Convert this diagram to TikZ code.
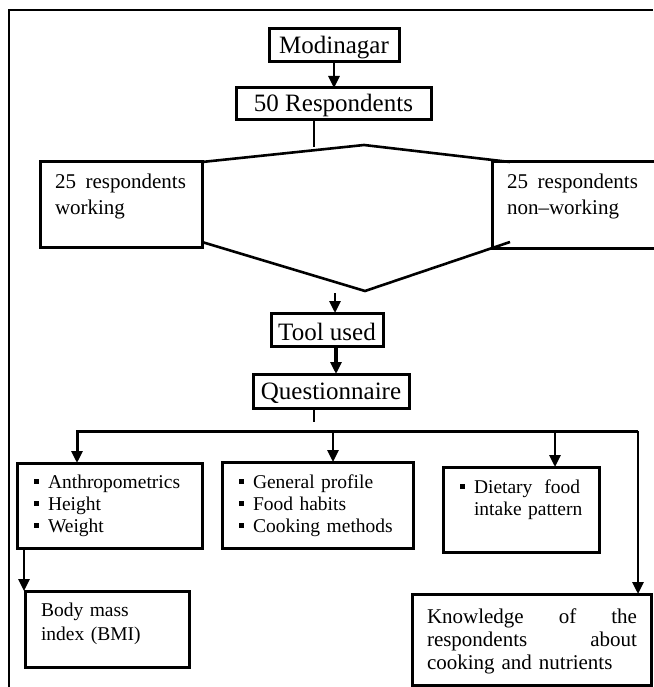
\documentclass[tikz,border=0pt]{standalone}
\usepackage{fontspec}
\setmainfont{Liberation Serif}
\usetikzlibrary{arrows.meta,calc}
\newcommand\sqbul{\leavevmode\llap{\raisebox{4.3pt}{\rule{5pt}{5pt}}\hspace{9.5pt}}}
\tikzset{
  box/.style={draw, line width=3pt, inner sep=0pt, outer sep=0pt, anchor=north west},
  big/.style={font=\fontsize{25}{30}\selectfont, text depth=0pt},
  txt/.style={inner sep=0pt, outer sep=0pt, anchor=north west, align=left},
  mid/.style={font=\fontsize{21}{26}\selectfont},
  small/.style={font=\fontsize{19.5}{22}\selectfont},
  arr/.style={line width=2.8pt, -{Triangle[width=11pt,length=12pt]}},
  chev/.style={line width=2.6pt, line join=miter},
  frame/.style={line width=2.5pt}
}
\begin{document}
\begin{tikzpicture}[x=1pt,y=-1pt]
\useasboundingbox (0,0) rectangle (653,687);
% outer frame (right and bottom edges lie outside the picture)
\draw[frame] (9,687) -- (9,10) -- (653,10);

% boxes
\node[box,big,minimum width=130pt,minimum height=33pt,text height=15.6pt] (mod) at (269,29) {Modinagar};
\node[box,big,minimum width=195pt,minimum height=32pt,text height=16pt] (resp) at (236,88) {50 Respondents};
\node[box,minimum width=162pt,minimum height=85pt] (work) at (40,162) {};
\node[box,minimum width=164pt,minimum height=86pt] (nonw) at (492,162) {};
\node[box,big,minimum width=112pt,minimum height=33pt,text height=21pt] (tool) at (271,313) {Tool used};
\node[box,big,minimum width=156pt,minimum height=34pt,text height=16pt] (quest) at (253,374) {Questionnaire};
\node[box,minimum width=185pt,minimum height=85pt] (anth) at (17,463) {};
\node[box,minimum width=191pt,minimum height=86pt] (gen) at (222,462) {};
\node[box,minimum width=156pt,minimum height=85pt] (diet) at (443,467) {};
\node[box,minimum width=164pt,minimum height=76pt] (bmi) at (25,591) {};
\node[box,minimum width=239pt,minimum height=91.5pt] (know) at (412,594) {};

% texts inside boxes
\node[txt,mid,text width=131pt] (workt) at (55,169.8) {\strut 25\hfill respondents\\working};
\node[txt,mid,text width=131pt] (nonwt) at (507,169.8) {\strut 25\hfill respondents\\non–working};
\node[txt,small,text width=150pt] (antht) at (48,472.6) {\sqbul\strut Anthropometrics\\\sqbul Height\\\sqbul Weight};
\node[txt,small,text width=160pt] (gent) at (253,472.6) {\sqbul\strut General profile\\\sqbul Food habits\\\sqbul Cooking methods};
\node[txt,small,text width=106pt] (dietT) at (474,477.6) {\sqbul\strut Dietary\hfill food\\\mbox{intake pattern}};
\node[txt,font=\fontsize{19.5}{24}\selectfont,text width=140pt] (bmit) at (41,599.2) {\strut Body mass\\index (BMI)};
\node[txt,font=\fontsize{21}{23}\selectfont,text width=210pt] (knowt) at (427,606.9) {\strut Knowledge\hfill of\hfill the\\respondents\hfill about\\cooking and nutrients};

% chevron joining the two groups
\coordinate (apexT) at (364,145);
\coordinate (tr) at (510,162);
\coordinate (bl) at (202,242);
\coordinate (apexB) at (365,291);
\coordinate (br) at (510,242);
\draw[chev] (work.north east) -- (apexT) -- (tr);
\draw[chev] (bl) -- (apexB) -- (br);

% connectors
\coordinate (respEnd) at (314,147);
\coordinate (toolIn) at (335,293);
\coordinate (qEnd) at (314,422);
\coordinate (busL) at (77,431);
\coordinate (busM) at (333,431);
\coordinate (busD) at (555,431);
\coordinate (busR) at (638,431);
\coordinate (bmiA) at (24,560);

\draw[arr] (mod.south) -- (mod.south |- resp.north);
\draw[line width=2.6pt] (resp.south -| respEnd) -- (respEnd);
\draw[arr] (toolIn) -- (toolIn |- tool.north);
\draw[arr,line width=3.4pt] ([xshift=9pt]tool.south) -- ([xshift=9pt]tool.south |- quest.north);
\draw[line width=1.2pt] (quest.south -| qEnd) -- (qEnd);
\draw[arr,line width=3pt,line join=miter] (busR) -- (busL) -- (busL |- anth.north);
\draw[arr] (busM) -- (busM |- gen.north);
\draw[arr] (busD) -- (busD |- diet.north);
\draw[arr] (busR) -- (busR |- know.north);
\draw[arr] (anth.south -| bmiA) -- (bmiA |- bmi.north);
\end{tikzpicture}
\end{document}
